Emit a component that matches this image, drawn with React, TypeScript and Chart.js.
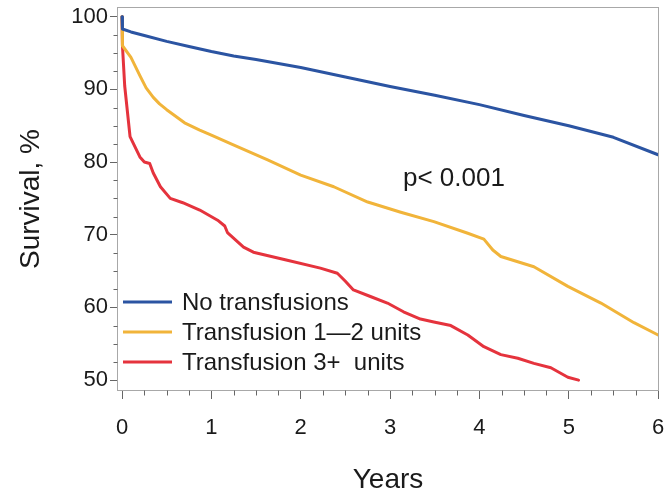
import React, { useEffect, useRef } from 'react';
import { Chart, registerables } from 'chart.js';

Chart.register(...registerables);

// ---- Data ----
const seriesLabels = ['No transfusions', 'Transfusion 1\u20142 units', 'Transfusion 3+  units'];
const seriesColors = ['#2b54a2', '#f1b43a', '#e5333d'];

const noTransYears = [0, 0.005, 0.1, 0.25, 0.5, 0.75, 1.0, 1.25, 1.5, 2.0, 2.5, 3.0, 3.5, 4.0, 4.5, 5.0, 5.5, 6.0];
const noTransSurv = [100, 98.3, 97.9, 97.4, 96.6, 95.9, 95.2, 94.6, 94.1, 93.0, 91.7, 90.4, 89.2, 87.9, 86.4, 85.0, 83.4, 81.0];

const trans12Years = [0, 0.005, 0.1, 0.2, 0.27, 0.35, 0.42, 0.5, 0.7, 0.87, 1.0, 1.24, 1.63, 2.0, 2.37, 2.75, 3.12, 3.49, 3.87, 4.05, 4.15, 4.24, 4.61, 4.99, 5.36, 5.73, 6.0];
const trans12Surv = [100, 96.0, 94.4, 91.9, 90.2, 88.9, 88.0, 87.2, 85.4, 84.4, 83.7, 82.4, 80.3, 78.2, 76.6, 74.5, 73.1, 71.8, 70.2, 69.4, 67.9, 67.0, 65.6, 62.9, 60.6, 57.9, 56.2];

const trans3Years = [0, 0.005, 0.03, 0.09, 0.2, 0.25, 0.31, 0.35, 0.43, 0.54, 0.68, 0.87, 1.07, 1.15, 1.18, 1.36, 1.47, 1.85, 2.22, 2.41, 2.5, 2.59, 2.78, 2.97, 3.15, 3.34, 3.49, 3.68, 3.87, 4.05, 4.24, 4.43, 4.61, 4.8, 4.99, 5.11];
const trans3Surv = [100, 96, 90.5, 83.5, 80.7, 80.0, 79.8, 78.5, 76.6, 75.0, 74.4, 73.4, 72.0, 71.2, 70.3, 68.3, 67.6, 66.5, 65.4, 64.7, 63.6, 62.4, 61.5, 60.6, 59.4, 58.4, 58.0, 57.5, 56.2, 54.6, 53.5, 53.0, 52.3, 51.7, 50.4, 50.0];

const xTickValues = [0, 1, 2, 3, 4, 5, 6];
const yTickValues = [50, 60, 70, 80, 90, 100];
const xMinorStep = 0.25;
const yMinorStep = 2.5;
const pValueText = 'p< 0.001';
const xTitle = 'Years';
const yTitle = 'Survival, %';

const FONT = '"Liberation Sans", Arial, Helvetica, sans-serif';

const toPoints = (xs: number[], ys: number[]) => xs.map((x, i) => ({ x, y: ys[i] }));

const decorPlugin = {
  id: 'decor',
  afterDraw(chart: any) {
    const { ctx, chartArea: ca, scales } = chart;
    const xs = scales.x;
    const ys = scales.y;
    ctx.save();
    // frame
    ctx.strokeStyle = '#a8a8a8';
    ctx.lineWidth = 1;
    const l = Math.round(ca.left) + 0.5;
    const t = Math.round(ca.top) + 0.5;
    const r = Math.round(ca.right) - 0.5;
    const b = Math.round(ca.bottom) - 0.5;
    ctx.strokeRect(l, t, r - l, b - t);

    // minor ticks
    ctx.strokeStyle = '#666';
    ctx.beginPath();
    for (let v = xMinorStep; v < xs.max; v += xMinorStep) {
      if (Math.abs(v - Math.round(v)) < 1e-6) continue;
      const px = Math.round(xs.getPixelForValue(v)) + 0.5;
      ctx.moveTo(px, b);
      ctx.lineTo(px, b + 5);
    }
    for (let v = 50 + yMinorStep; v < ys.max; v += yMinorStep) {
      if (Math.abs(v / 10 - Math.round(v / 10)) < 1e-6) continue;
      const py = Math.round(ys.getPixelForValue(v)) + 0.5;
      ctx.moveTo(l, py);
      ctx.lineTo(l - 4, py);
    }
    ctx.stroke();

    // legend (inside plot, bottom-left)
    const rowsY = [302, 332, 362];
    ctx.font = `24px ${FONT}`;
    ctx.textBaseline = 'middle';
    ctx.textAlign = 'left';
    chart.data.datasets.forEach((ds: any, i: number) => {
      const y = rowsY[i];
      ctx.strokeStyle = ds.borderColor;
      ctx.lineWidth = 3;
      ctx.beginPath();
      ctx.moveTo(123, y);
      ctx.lineTo(172, y);
      ctx.stroke();
      ctx.fillStyle = '#1a1a1a';
      ctx.fillText(ds.label, 182, y + 1);
    });

    // p-value annotation
    ctx.font = `26px ${FONT}`;
    ctx.fillStyle = '#1a1a1a';
    ctx.fillText(pValueText, 403, 179);
    ctx.restore();
  },
};

export default function App() {
  const canvasRef = useRef<HTMLCanvasElement | null>(null);

  useEffect(() => {
    const canvas = canvasRef.current;
    if (!canvas) return;
    const chart = new Chart(canvas, {
      type: 'line',
      data: {
        datasets: [
          { label: seriesLabels[0], data: toPoints(noTransYears, noTransSurv), borderColor: seriesColors[0], backgroundColor: seriesColors[0] },
          { label: seriesLabels[1], data: toPoints(trans12Years, trans12Surv), borderColor: seriesColors[1], backgroundColor: seriesColors[1] },
          { label: seriesLabels[2], data: toPoints(trans3Years, trans3Surv), borderColor: seriesColors[2], backgroundColor: seriesColors[2] },
        ],
      },
      options: {
        animation: false,
        responsive: false,
        maintainAspectRatio: false,
        layout: { padding: { top: 7, right: 8, left: 0, bottom: 0 } },
        elements: {
          point: { radius: 0, hoverRadius: 0 },
          line: { borderWidth: 3, tension: 0, borderJoinStyle: 'round', borderCapStyle: 'round' },
        },
        plugins: { legend: { display: false }, tooltip: { enabled: false } },
        scales: {
          x: {
            type: 'linear',
            min: -0.056,
            max: 6.01,
            afterBuildTicks: (s: any) => {
              s.ticks = xTickValues.map((v) => ({ value: v }));
            },
            afterFit: (s: any) => {
              s.height = 105;
              s.paddingLeft = 0;
              s.paddingRight = 0;
            },
            border: { display: false },
            grid: { display: true, drawOnChartArea: false, drawTicks: true, tickLength: 8, tickColor: '#666', tickWidth: 1 },
            ticks: {
              autoSkip: false,
              maxRotation: 0,
              padding: 16,
              color: '#1a1a1a',
              font: { family: FONT, size: 22 },
              callback: (v: any) => String(v),
            },
            title: {
              display: true,
              text: xTitle,
              color: '#1a1a1a',
              font: { family: FONT, size: 28, lineHeight: 1.1 },
              padding: { top: 0, bottom: 0 },
            },
          },
          y: {
            type: 'linear',
            min: 48.5,
            max: 101.33,
            afterBuildTicks: (s: any) => {
              s.ticks = yTickValues.map((v) => ({ value: v }));
            },
            afterFit: (s: any) => {
              s.width = 117;
              s.paddingTop = 0;
              s.paddingBottom = 0;
            },
            border: { display: false },
            grid: { display: true, drawOnChartArea: false, drawTicks: true, tickLength: 7, tickColor: '#666', tickWidth: 1 },
            ticks: {
              autoSkip: false,
              padding: 2,
              color: '#1a1a1a',
              font: { family: FONT, size: 22 },
              callback: (v: any) => String(v),
            },
            title: {
              display: true,
              text: yTitle,
              color: '#1a1a1a',
              font: { family: FONT, size: 28, lineHeight: 1.2 },
              padding: { top: 14, bottom: 0 },
            },
          },
        },
      },
      plugins: [decorPlugin],
    } as any);
    return () => chart.destroy();
  }, []);

  return (
    <div style={{ position: 'absolute', left: 0, top: 0, width: 667, height: 496, background: '#fff' }}>
      <canvas ref={canvasRef} width={667} height={496} style={{ display: 'block', width: 667, height: 496 }} />
    </div>
  );
}
